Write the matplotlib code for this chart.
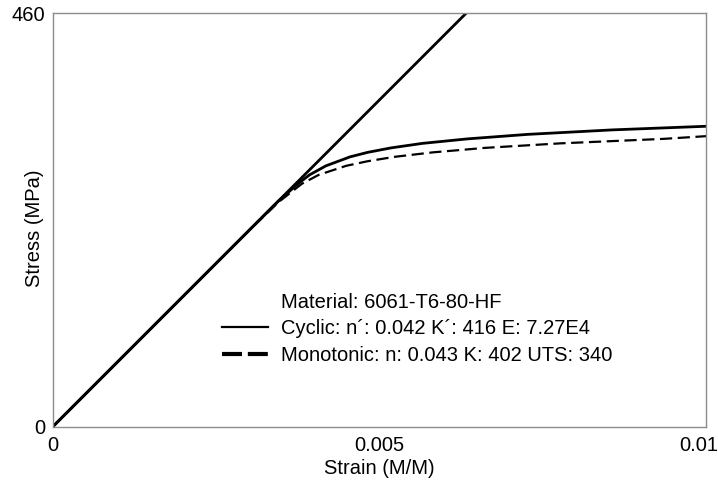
import matplotlib.pyplot as plt
from matplotlib.lines import Line2D
from matplotlib.transforms import ScaledTranslation

plt.rcParams['font.family'] = ['Liberation Sans', 'DejaVu Sans']

# Values
elastic_strain = [0, 0.00633]
elastic_stress = [0, 460]

cyclic_strain = [0, 0.0030, 0.00344, 0.00375, 0.00393, 0.00418, 0.00455,
                 0.00482, 0.00518, 0.00566, 0.00635, 0.00727, 0.00857, 0.0100]
cyclic_stress = [0, 218, 250, 270, 280, 290, 300, 305, 310, 315, 320, 325,
                 330, 334]

mono_strain = [0, 0.0030, 0.00346, 0.00381, 0.00407, 0.00449, 0.00481,
               0.00523, 0.00582, 0.00662, 0.00777, 0.00935, 0.0100]
mono_stress = [0, 218, 250, 270, 280, 290, 295, 300, 305, 310, 315, 320, 323]

x_ticks = [0, 0.005, 0.01]
x_labels = ['0', '0.005', '0.01']
y_ticks = [0, 460]
y_labels = ['0', '460']

fs = 14.5

fig = plt.figure(figsize=(7.18, 4.84), dpi=100)
ax = fig.add_axes([0.0738, 0.1188, 0.9095, 0.8543])

ax.plot(elastic_strain, elastic_stress, color='black', lw=2.0,
        solid_capstyle='butt')
ax.plot(cyclic_strain, cyclic_stress, color='black', lw=2.0)
ax.plot(mono_strain, mono_stress, color='black', lw=1.6,
        linestyle=(0, (5.5, 2.5)))

ax.set_xlim(0, 0.01)
ax.set_ylim(0, 460)
ax.set_xticks(x_ticks)
ax.set_xticklabels(x_labels)
ax.set_yticks(y_ticks)
ax.set_yticklabels(y_labels)
ax.tick_params(length=0, labelsize=fs)
ax.tick_params(axis='x', pad=7)
ax.tick_params(axis='y', pad=5.5)

# keep the last x label inside the figure
last = ax.get_xticklabels()[-1]
last.set_horizontalalignment('right')
last.set_transform(last.get_transform() +
                   ScaledTranslation(12 / 100, 0, fig.dpi_scale_trans))

for sp in ax.spines.values():
    sp.set_color('#8c8c8c')
    sp.set_linewidth(1.0)

ax.set_xlabel('Strain (M/M)', fontsize=fs, labelpad=3)
ax.set_ylabel('Stress (MPa)', fontsize=fs)
ax.yaxis.set_label_coords(-0.013, 0.48)

# legend: the material line sits as an entry without a visible handle
handles = [Line2D([], [], linestyle='none'),
           Line2D([], [], color='black', lw=1.6),
           Line2D([], [], color='black', lw=3.0, linestyle=(0, (4.8, 1.4)))]
labels = ['Material: 6061-T6-80-HF',
          'Cyclic: n\u00b4: 0.042 K\u00b4: 416 E: 7.27E4',
          'Monotonic: n: 0.043 K: 402 UTS: 340']
ax.legend(handles, labels, loc='upper left', bbox_to_anchor=(0.2313, 0.367),
          frameon=False, fontsize=fs, handlelength=2.3, handletextpad=0.6,
          labelspacing=0.37)

fig.savefig('out.png', dpi=100)
